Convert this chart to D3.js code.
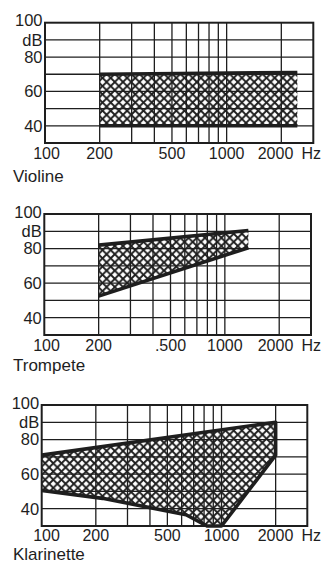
<!DOCTYPE html>
<html><head><meta charset="utf-8">
<script src="https://cdn.jsdelivr.net/npm/d3@7"></script>
<style>html,body{margin:0;padding:0;background:#fff;} svg{display:block;}</style>
</head><body>
<script>
// ---- data ----
const instruments = ["Violine", "Trompete", "Klarinette"];
const xTickValues = [100, 200, 500, 1000, 2000];
const xTickLabelsPerPanel = [
  ["100", "200", "500", "1000", "2000"],
  ["100", "200", ".500", "1000", "2000"],
  ["100", "200", "500", "1000", "2000"]
];
const xGridValues = [200, 300, 400, 500, 600, 700, 800, 900, 1000, 2000];
const yGridValues = [90, 80, 70, 60, 50, 40];
const yTickValues = [100, 90, 80, 60, 40];
const yTickLabels = ["100", "dB", "80", "60", "40"];
const unitLabel = "Hz";

// [frequency Hz, level dB]
const violineArea = [[200, 70], [2450, 71], [2450, 40], [200, 40]];
const violineUpper = [[200, 70], [2450, 71]];
const violineLower = [[200, 40], [2450, 40]];

const trompeteArea = [[200, 82], [1350, 90.5], [1350, 80.5], [200, 52.5]];
const trompeteUpper = [[200, 82], [1350, 90.5]];
const trompeteLower = [[200, 52.5], [1350, 80.5]];

const klarinetteArea = [[100, 71], [2000, 90], [2000, 71], [1000, 30], [830, 30], [635, 36.5], [218, 46], [100, 50.5]];
const klarinetteEdge = [[100, 71], [2000, 90], [2000, 71], [1000, 30], [830, 30], [635, 36.5], [218, 46], [100, 50.5]];

// ---- layout ----
const W = 326, H = 568;
const panels = [
  {name: instruments[0], left: 45, right: 313.3, top: 22.7, bottom: 143, tickDy: 16.3, titleY: 181.5,
   area: violineArea, edges: [violineUpper, violineLower], labels: xTickLabelsPerPanel[0]},
  {name: instruments[1], left: 44.3, right: 311, top: 214, bottom: 335, tickDy: 16, titleY: 370.5,
   area: trompeteArea, edges: [trompeteUpper, trompeteLower], labels: xTickLabelsPerPanel[1]},
  {name: instruments[2], left: 41.7, right: 307.3, top: 405, bottom: 526, tickDy: 15.3, titleY: 560.2,
   area: klarinetteArea, edges: [klarinetteEdge], labels: xTickLabelsPerPanel[2]}
];

const ink = "#1e1e1e";
const font = "'Liberation Sans', Arial, Helvetica, sans-serif";

const svg = d3.select("body").append("svg").attr("width", W).attr("height", H);

const defs = svg.append("defs");
const pat = defs.append("pattern").attr("id", "hatch")
  .attr("patternUnits", "userSpaceOnUse").attr("width", 8.2).attr("height", 8.2);
pat.append("path").attr("d", "M-1,-1L9.2,9.2M9.2,-1L-1,9.2")
  .attr("stroke", ink).attr("stroke-width", 1.9).attr("fill", "none");

panels.forEach(p => {
  const x = d3.scaleLog().domain([100, 3000]).range([p.left, p.right]);
  const y = d3.scaleLinear().domain([30, 100]).range([p.bottom, p.top]);
  const g = svg.append("g");

  // grid
  g.selectAll(".vg").data(xGridValues).join("line")
    .attr("x1", d => x(d)).attr("x2", d => x(d))
    .attr("y1", p.top).attr("y2", p.bottom)
    .attr("stroke", ink).attr("stroke-width", 1.3);
  g.selectAll(".hg").data(yGridValues).join("line")
    .attr("x1", p.left).attr("x2", p.right)
    .attr("y1", d => y(d)).attr("y2", d => y(d))
    .attr("stroke", ink).attr("stroke-width", 1.3);

  // hatched area
  const line = d3.line().x(d => x(d[0])).y(d => y(d[1]));
  g.append("path").attr("d", line(p.area) + "Z")
    .attr("fill", "url(#hatch)").attr("stroke", "none");
  p.edges.forEach(e => {
    g.append("path").attr("d", line(e))
      .attr("fill", "none").attr("stroke", ink).attr("stroke-width", 3.6)
      .attr("stroke-linejoin", "round").attr("stroke-linecap", "butt");
  });

  // frame
  g.append("rect").attr("x", p.left).attr("y", p.top)
    .attr("width", p.right - p.left).attr("height", p.bottom - p.top)
    .attr("fill", "none").attr("stroke", ink).attr("stroke-width", 2);

  // y labels
  g.selectAll(".yl").data(yTickValues).join("text")
    .attr("x", p.left - 2.5)
    .attr("y", (d, i) => i === 0 ? y(d) + 3.5 : y(d) + 5.8)
    .attr("text-anchor", "end")
    .attr("font-family", font).attr("font-size", 16.5).attr("fill", ink)
    .text((d, i) => yTickLabels[i]);

  // x labels
  g.selectAll(".xl").data(xTickValues).join("text")
    .attr("x", d => Math.min(Math.max(x(d), 46.5), 275.5))
    .attr("y", p.bottom + p.tickDy)
    .attr("text-anchor", "middle")
    .attr("font-family", font).attr("font-size", 16).attr("fill", ink)
    .text((d, i) => p.labels[i]);
  g.append("text").attr("x", 301.5).attr("y", p.bottom + p.tickDy)
    .attr("font-family", font).attr("font-size", 16).attr("fill", ink)
    .text(unitLabel);

  // instrument name
  g.append("text").attr("x", 13).attr("y", p.titleY)
    .attr("font-family", font).attr("font-size", 17).attr("fill", ink)
    .text(p.name);
});
</script>
</body></html>
